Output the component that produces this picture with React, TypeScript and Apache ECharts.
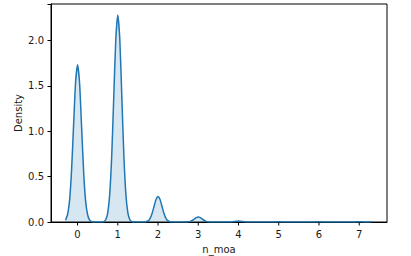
import React, { useEffect, useRef } from "react";
import * as echarts from "echarts";

const kdeX: number[] = [
  -0.3, -0.25, -0.2, -0.15, -0.1, -0.05, 0, 0.05, 0.1, 0.15, 0.2, 0.25, 0.3, 0.35, 0.4,
  0.6, 0.65, 0.7, 0.75, 0.8, 0.85, 0.9, 0.95, 1.0, 1.05, 1.1, 1.15, 1.2, 1.25, 1.3, 1.35, 1.4,
  1.65, 1.7, 1.75, 1.8, 1.85, 1.9, 1.95, 2.0, 2.05, 2.1, 2.15, 2.2, 2.25, 2.3, 2.35,
  2.7, 2.75, 2.8, 2.85, 2.9, 2.95, 3.0, 3.05, 3.1, 3.15, 3.2, 3.25, 3.3,
  3.75, 3.8, 3.85, 3.9, 3.95, 4.0, 4.05, 4.1, 4.15, 4.2, 4.25,
  4.85, 4.9, 5.0, 5.1, 5.15,
  5.85, 5.9, 6.0, 6.1, 6.15,
  6.85, 6.9, 7.0, 7.1, 7.3,
];
const kdeY: number[] = [
  0.02, 0.08, 0.23, 0.56, 1.05, 1.53, 1.73, 1.53, 1.05, 0.56, 0.23, 0.08, 0.02, 0.004, 0,
  0, 0.005, 0.025, 0.1, 0.31, 0.74, 1.38, 2.01, 2.28, 2.01, 1.38, 0.74, 0.31, 0.1, 0.025, 0.005, 0,
  0, 0.003, 0.012, 0.038, 0.091, 0.17, 0.247, 0.28, 0.247, 0.17, 0.091, 0.038, 0.012, 0.003, 0,
  0, 0.002, 0.007, 0.018, 0.033, 0.049, 0.055, 0.049, 0.033, 0.018, 0.007, 0.002, 0,
  0, 0.001, 0.003, 0.006, 0.009, 0.01, 0.009, 0.006, 0.003, 0.001, 0,
  0, 0.001, 0.002, 0.001, 0,
  0, 0.001, 0.002, 0.001, 0,
  0, 0.001, 0.002, 0.001, 0,
];
const xTicks: number[] = [0, 1, 2, 3, 4, 5, 6, 7];
const yTicks: number[] = [0, 0.5, 1.0, 1.5, 2.0];

const xName = "n_moa";
const yName = "Density";

export default function App() {
  const ref = useRef<HTMLDivElement>(null);
  useEffect(() => {
    if (!ref.current) return;
    const chart = echarts.init(ref.current, undefined, { renderer: "svg" });
    const data = kdeX.map((x, i) => [x, kdeY[i]]);
    const font = "DejaVu Sans";
    const txt = "#1a1a1a";
    chart.setOption({
      animation: false,
      backgroundColor: "#fff",
      grid: {
        left: 51,
        right: 24,
        top: 4,
        bottom: 34,
        containLabel: false,
        outerBoundsMode: "none",
        show: true,
        borderColor: "#000",
        borderWidth: 1,
        backgroundColor: "transparent",
      },
      xAxis: {
        type: "value",
        min: -0.66,
        max: 7.69,
        name: xName,
        nameLocation: "middle",
        nameGap: 22,
        nameMoveOverlap: false,
        nameTextStyle: { fontFamily: font, fontSize: 10, color: txt },
        axisLine: { show: true, onZero: false, lineStyle: { color: "#000", width: 1 } },
        axisTick: { show: false },
        axisLabel: { show: false },
        splitLine: { show: false },
      },
      yAxis: {
        type: "value",
        min: 0,
        max: 2.4,
        interval: 0.5,
        name: yName,
        nameLocation: "middle",
        nameGap: 28,
        nameMoveOverlap: false,
        nameRotate: 90,
        nameTextStyle: { fontFamily: font, fontSize: 10, color: txt },
        axisLine: { show: true, onZero: false, lineStyle: { color: "#000", width: 1 } },
        axisTick: { show: true, length: 3.5, lineStyle: { color: "#000" } },
        axisLabel: {
          margin: 7,
          fontFamily: font,
          fontSize: 10,
          color: txt,
          formatter: (v: number) =>
            yTicks.some((t) => Math.abs(t - v) < 1e-9) ? v.toFixed(1) : "",
        },
        splitLine: { show: false },
      },
      series: [
        {
          type: "line",
          data,
          showSymbol: false,
          smooth: 0.2,
          lineStyle: { color: "#1f77b4", width: 1.5 },
          areaStyle: { color: "rgba(31,119,180,0.25)" },
        },
        {
          type: "custom",
          clip: false,
          silent: true,
          data: xTicks.map((v) => [v, 0]),
          renderItem: (_params: any, api: any) => {
            const v = api.value(0);
            const p = api.coord([v, 0]);
            return {
              type: "group",
              children: [
                {
                  type: "line",
                  shape: { x1: p[0], y1: p[1], x2: p[0], y2: p[1] + 3.5 },
                  style: { stroke: "#000", lineWidth: 1 },
                },
                {
                  type: "text",
                  x: p[0],
                  y: p[1] + 7,
                  style: {
                    text: String(v),
                    textAlign: "center",
                    textVerticalAlign: "top",
                    font: `10px "${font}"`,
                    fill: txt,
                  },
                },
              ],
            };
          },
        },
      ],
    });
    return () => chart.dispose();
  }, []);
  return (
    <div
      ref={ref}
      style={{ position: "fixed", left: 0, top: 0, width: 411, height: 256 }}
    />
  );
}
